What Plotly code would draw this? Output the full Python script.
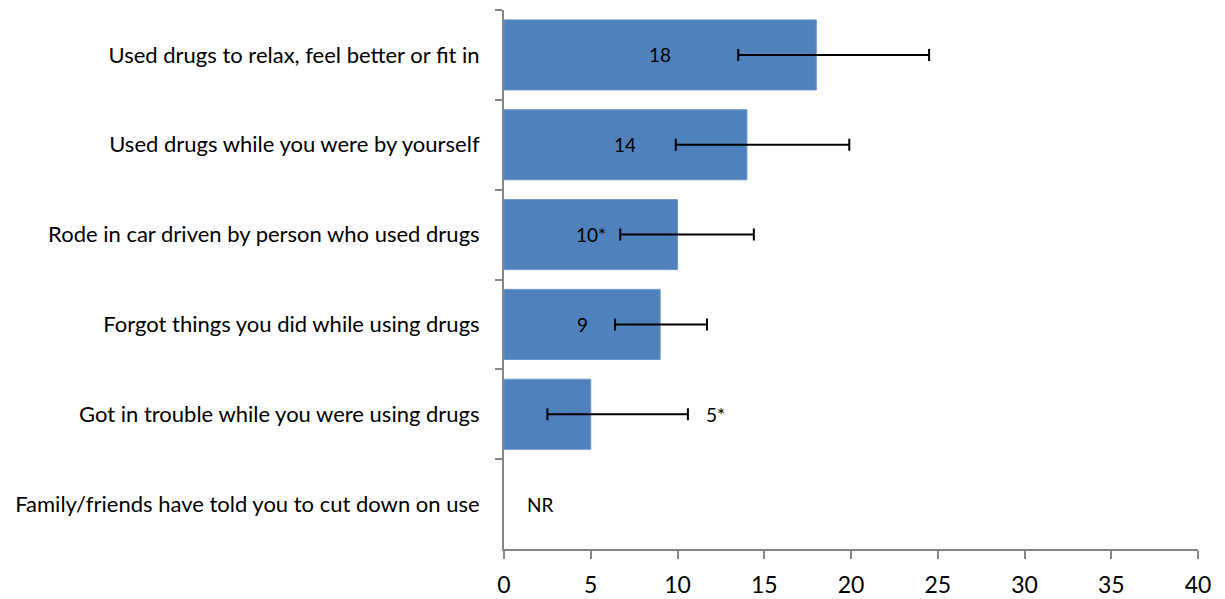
import plotly.graph_objects as go

# Share of respondents reporting each drug-related behaviour (%)
categories = [
    "Used drugs to relax, feel better or fit in",
    "Used drugs while you were by yourself",
    "Rode in car driven by person who used drugs",
    "Forgot things you did while using drugs",
    "Got in trouble while you were using drugs",
    "Family/friends have told you to cut down on use",
]
values = [18, 14, 10, 9, 5, None]
labels = ["18", "14", "10*", "9", "5*", "NR"]
ci_low = [13.5, 9.9, 6.7, 6.4, 2.5, None]
ci_high = [24.5, 19.9, 14.4, 11.7, 10.6, None]
# label placement: inside (centred on bar) or beside the bar
label_inside = [True, True, True, True, False, False]
label_outside_x = [None, None, None, None, 12.2, 2.1]

err_plus = [h - v if v is not None else None for v, h in zip(values, ci_high)]
err_minus = [v - l if v is not None else None for v, l in zip(values, ci_low)]

AXIS = "#868686"
FONT = "Lato"

fig = go.Figure()
fig.add_trace(go.Bar(
    x=values,
    y=categories,
    orientation="h",
    marker=dict(color="#4F81BD", line=dict(color="#6A96CC", width=1)),
    error_x=dict(
        type="data", symmetric=False,
        array=err_plus, arrayminus=err_minus,
        color="black", thickness=2, width=6,
    ),
    hoverinfo="skip",
))

for cat, v, lab, inside, ox in zip(categories, values, labels, label_inside, label_outside_x):
    x = v / 2 if inside else ox
    fig.add_annotation(
        x=x, y=cat, text=lab, showarrow=False,
        font=dict(family=FONT, size=19, color="black"),
        xanchor="center", yanchor="middle",
    )

fig.update_layout(
    width=1225, height=599,
    margin=dict(l=504, r=27, t=10, b=50),
    paper_bgcolor="white", plot_bgcolor="white",
    showlegend=False,
    bargap=0.22,
    font=dict(family=FONT, color="black"),
)
fig.update_xaxes(
    range=[0, 40], dtick=5,
    showgrid=False, zeroline=False,
    showline=True, linecolor=AXIS, linewidth=2,
    ticks="outside", ticklen=8, tickwidth=2, tickcolor=AXIS,
    tickfont=dict(family=FONT, size=23, color="black"),
    ticklabelstandoff=6,
    automargin=False,
)
fig.update_yaxes(
    type="category",
    categoryorder="array", categoryarray=categories,
    range=[5.5, -0.5],
    showgrid=False, zeroline=False,
    showline=True, linecolor=AXIS, linewidth=2,
    ticks="outside", ticklen=7, tickwidth=2, tickcolor=AXIS,
    tickson="boundaries",
    tickfont=dict(family=FONT, size=22, color="black"),
    ticklabelstandoff=18,
    automargin=False,
)

fig.write_html("out.html")
